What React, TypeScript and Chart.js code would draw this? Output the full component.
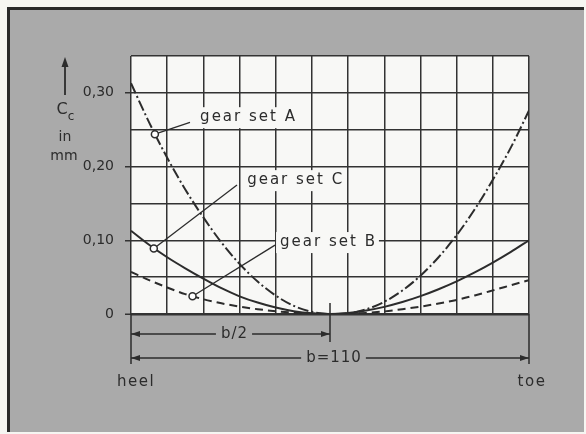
import React, { useEffect, useRef } from 'react';
import { Chart, registerables } from 'chart.js';

Chart.register(...registerables);

// ---- data ----
const positions = [0, 5, 10, 15, 20, 25, 30, 35, 40, 45, 50, 55, 60, 65, 70, 75, 80, 85, 90, 95, 100, 105, 110];
const gearSetA = [0.313, 0.26, 0.212, 0.169, 0.131, 0.097, 0.068, 0.044, 0.025, 0.011, 0.003, 0, 0.0009, 0.0063, 0.0166, 0.0318, 0.052, 0.077, 0.107, 0.142, 0.182, 0.226, 0.276];
const gearSetC = [0.113, 0.094, 0.077, 0.062, 0.048, 0.035, 0.024, 0.0155, 0.0087, 0.0038, 0.001, 0, 0.0013, 0.0047, 0.0097, 0.0162, 0.0242, 0.0336, 0.0443, 0.0564, 0.0697, 0.0842, 0.1];
const gearSetB = [0.057, 0.046, 0.036, 0.027, 0.02, 0.0145, 0.01, 0.0065, 0.0038, 0.0018, 0.0005, 0, 0.0003, 0.0015, 0.0035, 0.0065, 0.01, 0.0142, 0.019, 0.0252, 0.032, 0.039, 0.046];

const seriesNames = ['gear set A', 'gear set C', 'gear set B'];
const calloutX = [6.6, 6.3, 17];
const calloutY = [0.244, 0.089, 0.024];
const leaderEndX = [16.3, 29.3, 39.8];
const leaderEndY = [0.26, 0.175, 0.0935];
const labelX = [19.1, 32.1, 41.2];
const labelY = [0.267, 0.1816, 0.0976];

const yTickValues = [0, 0.1, 0.2, 0.3];
const yTickLabels = ['0', '0,10', '0,20', '0,30'];
const faceWidth = 110;
const halfLabel = 'b/2';
const fullLabel = 'b=110';
const heelLabel = 'heel';
const toeLabel = 'toe';

const INK = '#2c2c2c';
const GREY = '#aaaaaa';
const FONT = '"DejaVu Sans", sans-serif';

function tri(ctx: CanvasRenderingContext2D, tipX: number, tipY: number, dir: 'l' | 'r' | 'u') {
  ctx.beginPath();
  if (dir === 'l') {
    ctx.moveTo(tipX, tipY); ctx.lineTo(tipX + 9, tipY - 3); ctx.lineTo(tipX + 9, tipY + 3);
  } else if (dir === 'r') {
    ctx.moveTo(tipX, tipY); ctx.lineTo(tipX - 9, tipY - 3); ctx.lineTo(tipX - 9, tipY + 3);
  } else {
    ctx.moveTo(tipX, tipY); ctx.lineTo(tipX - 3.5, tipY + 10); ctx.lineTo(tipX + 3.5, tipY + 10);
  }
  ctx.closePath();
  ctx.fill();
}

function dimLine(ctx: CanvasRenderingContext2D, x1: number, x2: number, y: number, text: string) {
  ctx.save();
  ctx.strokeStyle = INK;
  ctx.fillStyle = INK;
  ctx.lineWidth = 1.5;
  ctx.font = `15px ${FONT}`;
  (ctx as any).letterSpacing = '1px';
  const w = ctx.measureText(text).width;
  const mid = (x1 + x2) / 2 + 4;
  ctx.beginPath();
  ctx.moveTo(x1, y); ctx.lineTo(mid - w / 2 - 5, y);
  ctx.moveTo(mid + w / 2 + 4, y); ctx.lineTo(x2, y);
  ctx.stroke();
  tri(ctx, x1, y, 'l');
  tri(ctx, x2, y, 'r');
  ctx.textAlign = 'center';
  ctx.textBaseline = 'middle';
  ctx.fillText(text, mid, y);
  ctx.restore();
}

const decorPlugin = {
  id: 'decor',
  beforeDraw(chart: any) {
    const { ctx, chartArea: a, width, height } = chart;
    ctx.save();
    ctx.fillStyle = '#f6f6f2';
    ctx.fillRect(0, 0, width, height);
    ctx.fillStyle = GREY;
    ctx.fillRect(8, 8, width - 10, height - 10);
    ctx.fillStyle = '#2a2a2a';
    ctx.fillRect(7, 7, width - 9, 3);
    ctx.fillRect(7, 7, 3, height - 9);
    ctx.fillStyle = '#f8f8f6';
    ctx.fillRect(a.left, a.top, a.right - a.left, a.bottom - a.top);
    ctx.restore();
  },
  afterDraw(chart: any) {
    const { ctx, chartArea: a } = chart;
    const xs = chart.scales.x;
    const ys = chart.scales.y;
    ctx.save();

    // callout labels with leaders
    for (let i = 0; i < seriesNames.length; i++) {
      const cx = xs.getPixelForValue(calloutX[i]);
      const cy = ys.getPixelForValue(calloutY[i]);
      const ex = xs.getPixelForValue(leaderEndX[i]);
      const ey = ys.getPixelForValue(leaderEndY[i]);
      const tx = xs.getPixelForValue(labelX[i]);
      const ty = ys.getPixelForValue(labelY[i]);
      ctx.font = `15px ${FONT}`;
      (ctx as any).letterSpacing = '2px';
      const w = ctx.measureText(seriesNames[i]).width;
      ctx.fillStyle = '#f8f8f6';
      ctx.fillRect(tx - 4, ty - 10, w + 6, 21);
      ctx.fillStyle = INK;
      ctx.textAlign = 'left';
      ctx.textBaseline = 'middle';
      ctx.fillText(seriesNames[i], tx, ty);
      (ctx as any).letterSpacing = '0px';
      ctx.strokeStyle = INK;
      ctx.lineWidth = 1.3;
      ctx.beginPath();
      ctx.moveTo(cx, cy);
      ctx.lineTo(ex, ey);
      ctx.stroke();
      ctx.beginPath();
      ctx.arc(cx, cy, 3.5, 0, Math.PI * 2);
      ctx.fillStyle = '#ffffff';
      ctx.fill();
      ctx.lineWidth = 1.5;
      ctx.stroke();
    }

    // dimension lines
    const x0 = xs.getPixelForValue(0);
    const xm = xs.getPixelForValue(faceWidth / 2);
    const x1 = xs.getPixelForValue(faceWidth);
    ctx.strokeStyle = INK;
    ctx.lineWidth = 1.5;
    ctx.beginPath();
    ctx.moveTo(x0, a.bottom); ctx.lineTo(x0, a.bottom + 50);
    ctx.moveTo(x1, a.bottom); ctx.lineTo(x1, a.bottom + 50);
    ctx.moveTo(xm, a.bottom - 11); ctx.lineTo(xm, a.bottom + 28);
    ctx.stroke();
    dimLine(ctx, x0, xm, a.bottom + 20, halfLabel);
    dimLine(ctx, x0, x1, a.bottom + 44, fullLabel);

    // heel / toe
    ctx.fillStyle = INK;
    ctx.font = `15px ${FONT}`;
    (ctx as any).letterSpacing = '1.5px';
    ctx.textBaseline = 'middle';
    ctx.textAlign = 'left';
    ctx.fillText(heelLabel, x0 - 14, a.bottom + 68);
    ctx.textAlign = 'center';
    ctx.fillText(toeLabel, x1 + 3, a.bottom + 68);
    (ctx as any).letterSpacing = '0px';

    // y axis title with arrow
    const ax = 65;
    ctx.lineWidth = 1.8;
    ctx.beginPath();
    ctx.moveTo(ax, 95); ctx.lineTo(ax, 64);
    ctx.stroke();
    tri(ctx, ax, 57, 'u');
    ctx.font = `16px ${FONT}`;
    ctx.textAlign = 'center';
    ctx.fillText('C', ax - 3, 110);
    ctx.font = `12px ${FONT}`;
    ctx.fillText('c', ax + 6, 117);
    ctx.font = `14px ${FONT}`;
    ctx.fillText('in', ax, 137);
    ctx.fillText('mm', ax - 1, 156);
    ctx.restore();
  },
};

export default function App() {
  const ref = useRef<HTMLCanvasElement | null>(null);
  useEffect(() => {
    if (!ref.current) return;
    const mk = (vals: number[]) => positions.map((x, i) => ({ x, y: vals[i] }));
    const chart = new Chart(ref.current, {
      type: 'line',
      data: {
        datasets: [
          { label: 'gear set A', data: mk(gearSetA), borderColor: INK, borderWidth: 2, borderDash: [11, 3, 2, 3], pointRadius: 0, tension: 0.4, cubicInterpolationMode: 'monotone', fill: false },
          { label: 'gear set C', data: mk(gearSetC), borderColor: INK, borderWidth: 2, pointRadius: 0, tension: 0.4, cubicInterpolationMode: 'monotone', fill: false },
          { label: 'gear set B', data: mk(gearSetB), borderColor: INK, borderWidth: 2, borderDash: [8, 5], pointRadius: 0, tension: 0.4, cubicInterpolationMode: 'monotone', fill: false },
        ],
      },
      options: {
        animation: false,
        responsive: false,
        devicePixelRatio: 1,
        layout: { padding: { left: 0, top: 56, right: 57, bottom: 120 } },
        plugins: { legend: { display: false }, tooltip: { enabled: false } },
        scales: {
          x: {
            type: 'linear',
            min: 0,
            max: faceWidth,
            afterFit: (s: any) => { s.height = 0; },
            ticks: { display: false, stepSize: 10 },
            grid: { color: '#333333', lineWidth: 1.5, drawTicks: false },
            border: { display: false },
          },
          y: {
            min: 0,
            max: 0.35,
            afterFit: (s: any) => { s.width = 131; },
            ticks: {
              stepSize: 0.05,
              autoSkip: false,
              padding: 11,
              color: INK,
              font: { family: FONT, size: 14 },
              callback: (v: any) => {
                const idx = yTickValues.findIndex((t) => Math.abs(t - Number(v)) < 1e-6);
                return idx >= 0 ? yTickLabels[idx] : '';
              },
            },
            grid: {
              color: '#333333',
              lineWidth: (c: any) => (c.tick && Math.abs(c.tick.value) < 1e-6 ? 2.5 : 1.5),
              tickLength: 6,
              tickWidth: 1.5,
              tickColor: (c: any) => (c.tick && yTickValues.some((t) => Math.abs(t - c.tick.value) < 1e-6) ? '#333333' : 'rgba(0,0,0,0)'),
            },
            border: { display: false },
          },
        },
      },
      plugins: [decorPlugin],
    } as any);
    return () => chart.destroy();
  }, []);
  return (
    <div style={{ position: 'fixed', left: 0, top: 0, width: 586, height: 434 }}>
      <canvas ref={ref} width={586} height={434} style={{ display: 'block', width: 586, height: 434 }} />
    </div>
  );
}
